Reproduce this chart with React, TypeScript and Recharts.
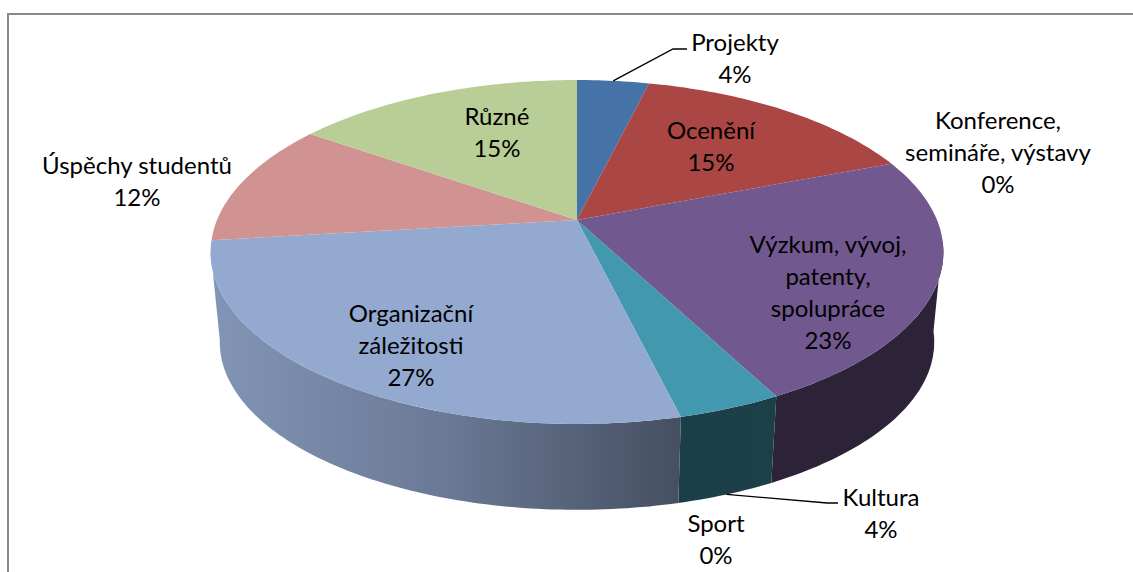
import { Pie, PieChart } from "recharts";

const categories = [
    "Projekty",
    "Ocenění",
    "Konference,\nsemináře, výstavy",
    "Výzkum, vývoj,\npatenty,\nspolupráce",
    "Kultura",
    "Sport",
    "Organizační\nzáležitosti",
    "Úspěchy studentů",
    "Různé",
];
const shares = [3.8, 15.3, 0, 23.25, 3.85, 0, 26.9, 11.6, 15.3];

const topColors = ["#4572a7", "#aa4643", "#89a54e", "#71588f", "#4198af", "#db843d", "#93a9cf", "#d19392", "#b9cd96"];
const sideColors = ["#2b4768", "#6a2b2a", "#55662f", "#2d2339", "url(#kulturaSide)", "#85502a", "url(#organizaceSide)", "#815b5a", "#73805d"];

const topData = categories.map((name, i) => ({ name, value: shares[i], fill: topColors[i] }));
const sideData = categories.map((name, i) => ({ name, value: shares[i], fill: sideColors[i] }));

// centre of the label block, one pair per slice
const labelSpots = [
    [735, 57],
    [711, 145],
    [998, 151],
    [828, 291],
    [881, 512],
    [716, 538],
    [411, 344],
    [137, 180],
    [497, 131],
];
const LINE_HEIGHT = 32;

// perspective of the tilted disc
const SQUASH = 166 / 360;
const DEPTH = 0.186;
const FLOOR_SCALE = 0.975;
const FLOOR_DROP = 91;

function project(cx: number, cy: number, r: number, theta: number, floor = false) {
    const rad = (theta * Math.PI) / 180;
    const u = Math.sin(rad);
    const v = Math.cos(rad);
    const d = 1 + DEPTH * v;
    const s = floor ? FLOOR_SCALE : 1;
    return {
        x: cx + (s * r * u) / d,
        y: cy + (floor ? FLOOR_DROP : 0) - (s * r * SQUASH * v) / d,
    };
}

function arc(cx: number, cy: number, r: number, from: number, to: number, floor = false) {
    const pts = [];
    const steps = Math.max(2, Math.ceil(to - from));
    for (let i = 0; i <= steps; i++) {
        pts.push(project(cx, cy, r, from + ((to - from) * i) / steps, floor));
    }
    return pts;
}

const toPath = (pts: { x: number; y: number }[]) =>
    "M" + pts.map((p) => `${p.x.toFixed(1)},${p.y.toFixed(1)}`).join("L") + "Z";

function TopSlice(props: any) {
    const { cx, cy, outerRadius, startAngle, endAngle, fill } = props;
    if (startAngle === endAngle) return null;
    const pts = [{ x: cx, y: cy }, ...arc(cx, cy, outerRadius, 90 - startAngle, 90 - endAngle)];
    return <path d={toPath(pts)} fill={fill} stroke="none" />;
}

function SideSlice(props: any) {
    const { cx, cy, outerRadius, startAngle, endAngle, fill } = props;
    // only the front of the rim can be seen
    const from = Math.max(90 - startAngle, 97);
    const to = Math.min(90 - endAngle, 260);
    if (to <= from) return null;
    const upper = arc(cx, cy, outerRadius, from, to);
    const lower = arc(cx, cy, outerRadius, from, to, true).reverse();
    return <path d={toPath([...upper, ...lower])} fill={fill} stroke="none" />;
}

function SliceLabel(props: any) {
    const { index, name, percent, cx, cy, outerRadius, startAngle, endAngle } = props;
    const [x, y] = labelSpots[index];
    const lines = [...String(name).split("\n"), `${Math.round(percent * 100)}%`];
    const top = y - ((lines.length - 1) * LINE_HEIGHT) / 2;
    const mid = 90 - (startAngle + endAngle) / 2;
    let leader = null;
    if (index === 0) {
        const p = project(cx, cy, outerRadius, mid);
        leader = <polyline points={`${p.x},${p.y} 673,49 687,49`} fill="none" stroke="#000" strokeWidth={1.3} />;
    }
    if (index === 4) {
        const p = project(cx, cy, outerRadius, mid, true);
        leader = <polyline points={`${p.x},${p.y} 827,503 838,503`} fill="none" stroke="#000" strokeWidth={1.3} />;
    }
    return (
        <g>
            {leader}
            {lines.map((line, i) => (
                <text
                    key={i}
                    x={x}
                    y={top + i * LINE_HEIGHT}
                    textAnchor="middle"
                    dominantBaseline="central"
                    fontFamily="Lato"
                    fontSize={24}
                    fill="#000"
                >
                    {line}
                </text>
            ))}
        </g>
    );
}

export default function App() {
    return (
        <div style={{ position: "absolute", left: 0, top: 0, width: 1133, height: 572, background: "#fff", overflow: "hidden" }}>
            <div
                style={{
                    position: "absolute",
                    left: 7,
                    top: 13,
                    width: 1133,
                    height: 572,
                    borderLeft: "2px solid #8a8a8a",
                    borderTop: "2px solid #8a8a8a",
                }}
            />
            <PieChart
                width={1133}
                height={572}
                margin={{ top: 0, right: 0, bottom: 0, left: 0 }}
                style={{ position: "absolute", left: 0, top: 0 }}
            >
                <defs>
                    <linearGradient id="organizaceSide" gradientUnits="userSpaceOnUse" x1="211" y1="0" x2="681" y2="0">
                        <stop offset="0%" stopColor="#8295b6" />
                        <stop offset="50%" stopColor="#6a7995" />
                        <stop offset="100%" stopColor="#454f61" />
                    </linearGradient>
                    <linearGradient id="kulturaSide" gradientUnits="userSpaceOnUse" x1="680" y1="0" x2="776" y2="0">
                        <stop offset="0%" stopColor="#1b3e49" />
                        <stop offset="100%" stopColor="#1d3f4a" />
                    </linearGradient>
                </defs>
                <Pie
                    data={sideData}
                    dataKey="value"
                    nameKey="name"
                    cx={577}
                    cy={220}
                    outerRadius={360}
                    startAngle={90}
                    endAngle={-270}
                    shape={SideSlice}
                    stroke="none"
                    isAnimationActive={false}
                />
                <Pie
                    data={topData}
                    dataKey="value"
                    nameKey="name"
                    cx={577}
                    cy={220}
                    outerRadius={360}
                    startAngle={90}
                    endAngle={-270}
                    shape={TopSlice}
                    stroke="none"
                    label={SliceLabel}
                    labelLine={false}
                    isAnimationActive={false}
                />
            </PieChart>
        </div>
    );
}
